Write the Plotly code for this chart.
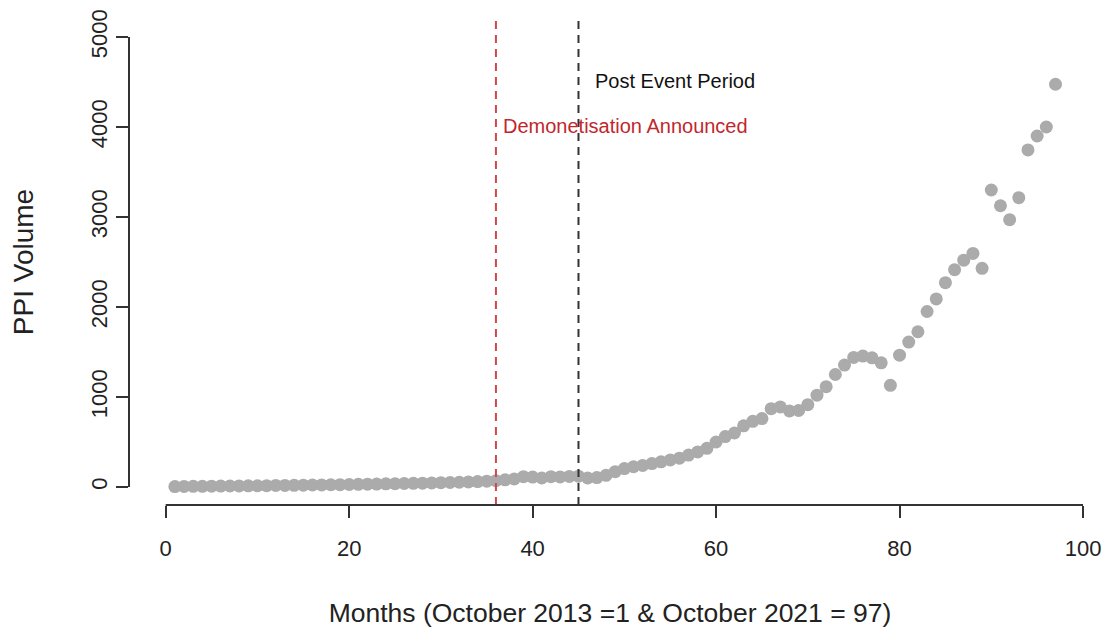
import plotly.graph_objects as go

months = list(range(1, 98))
ppi_volume = [
    5, 6, 7, 8, 9, 10, 11, 12, 13, 14,
    15, 17, 18, 19, 20, 22, 23, 25, 26, 28,
    30, 31, 33, 35, 37, 39, 41, 43, 45, 48,
    50, 53, 56, 60, 65, 70, 80, 90, 115, 110,
    100, 115, 112, 118, 120, 100, 105, 130, 170, 205,
    225, 240, 260, 280, 300, 320, 355, 390, 430, 500,
    560, 600, 680, 730, 760, 870, 890, 845, 850, 915,
    1020, 1115, 1250, 1355, 1440, 1455, 1435, 1380, 1130, 1465,
    1610, 1725, 1950, 2090, 2270, 2415, 2520, 2595, 2430, 3300,
    3125, 2970, 3215, 3745, 3900, 4000, 4475,
]
x_ticks = [0, 20, 40, 60, 80, 100]
y_ticks = [0, 1000, 2000, 3000, 4000, 5000]
event_month = 36
post_month = 45

FONT = "Liberation Sans, Arial, sans-serif"

fig = go.Figure()
fig.add_trace(go.Scatter(
    x=months, y=ppi_volume, mode="markers",
    marker=dict(color="#ABABAB", size=13, line=dict(width=0)),
    showlegend=False, hoverinfo="x+y", cliponaxis=False,
))

fig.add_vline(x=event_month, line=dict(color="#D0484B", width=2, dash="8px,6px"))
fig.add_vline(x=post_month, line=dict(color="#333333", width=2, dash="8px,6px"))

fig.add_annotation(x=post_month + 1.6, y=4510, text="Post Event Period", showarrow=False,
                   xanchor="left", yanchor="middle", font=dict(family=FONT, size=20, color="#111111"))
fig.add_annotation(x=event_month + 0.5, y=4010, text="Demonetisation Announced", showarrow=False,
                   xanchor="left", yanchor="middle", font=dict(family=FONT, size=20, color="#C1272D"))

# axis lines spanning only the tick range (R style)
fig.add_shape(type="line", xref="x", yref="paper", x0=x_ticks[0], x1=x_ticks[-1], y0=0, y1=0,
              line=dict(color="#333333", width=2))
fig.add_shape(type="line", xref="paper", yref="y", x0=0, x1=0, y0=y_ticks[0], y1=y_ticks[-1],
              line=dict(color="#333333", width=2))

fig.update_layout(
    width=1110, height=637,
    margin=dict(l=129, r=19, t=19, b=132),
    paper_bgcolor="white", plot_bgcolor="white",
    font=dict(family=FONT, size=22, color="#222222"),
    xaxis=dict(range=[-4, 100.87], tickvals=x_ticks, ticks="outside", ticklen=12, tickwidth=2,
               tickcolor="#333333", showgrid=False, zeroline=False, showline=False,
               ticklabelstandoff=12, automargin=False,
               title=dict(text="Months (October 2013 =1 & October 2021 = 97)", standoff=43,
                          font=dict(family=FONT, size=26.5, color="#222222")),
               tickfont=dict(family=FONT, size=22, color="#222222")),
    yaxis=dict(range=[-200, 5200], tickvals=y_ticks, ticks="outside", ticklen=12, tickwidth=2,
               tickcolor="#333333", showgrid=False, zeroline=False, showline=False,
               tickangle=-90, automargin=False,
               title=dict(text="PPI Volume", standoff=45,
                          font=dict(family=FONT, size=28, color="#222222")),
               tickfont=dict(family=FONT, size=22, color="#222222")),
)

fig.write_html("out.html")
